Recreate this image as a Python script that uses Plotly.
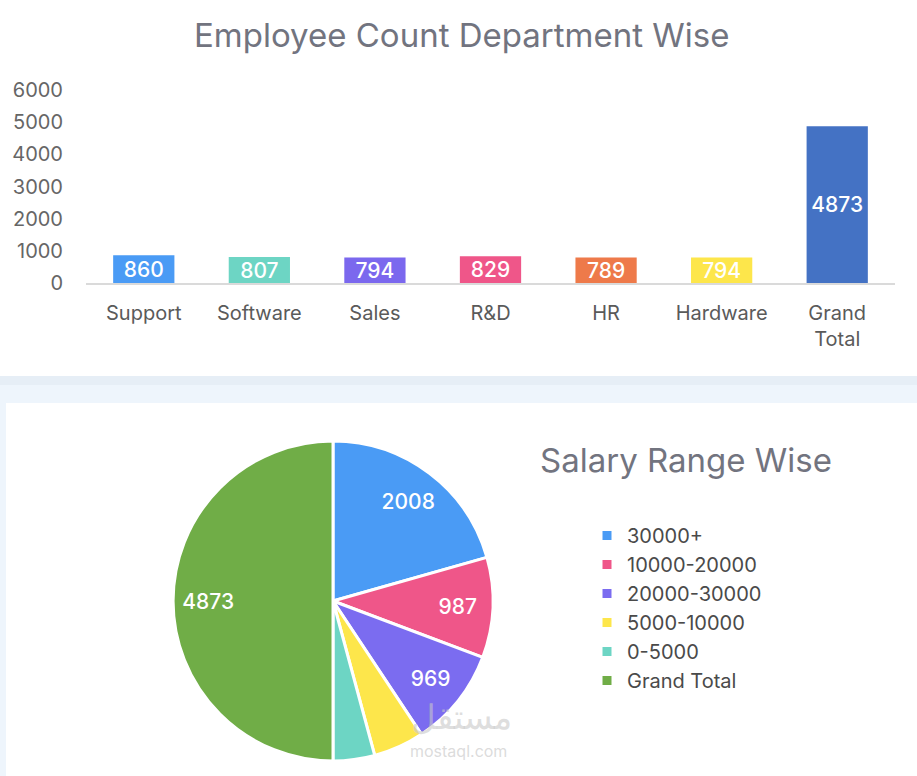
import plotly.graph_objects as go

# ---- data ----
departments = ["Support", "Software", "Sales", "R&D", "HR", "Hardware", "Grand Total"]
dept_tick_labels = ["Support", "Software", "Sales", "R&D", "HR", "Hardware", "Grand<br>Total"]
employee_counts = [860, 807, 794, 829, 789, 794, 4873]
bar_colors = ["#4A9BF5", "#6DD5C4", "#7B68EE", "#EF5689", "#EE7A4A", "#FDE64B", "#4472C4"]

salary_ranges = ["30000+", "10000-20000", "20000-30000", "5000-10000", "0-5000", "Grand Total"]
salary_counts = [2008, 987, 969, 500, 409, 4873]
pie_colors = ["#4A9BF5", "#EF5689", "#7B6CF0", "#FDE64B", "#6DD5C4", "#70AD47"]
pie_show_label = [True, True, True, False, False, True]

y_ticks = [0, 1000, 2000, 3000, 4000, 5000, 6000]

W, H = 917, 776
FONT = "Inter"
TITLE_COLOR = "#72747F"
TICK_COLOR = "#5A5A5A"


def px(x):
    return x / W


def py(y):
    return 1 - y / H


pie_domain = dict(x=[px(173), px(493)], y=[py(761), py(441)])

fig = go.Figure()

fig.add_trace(go.Bar(
    x=departments,
    y=employee_counts,
    marker=dict(color=bar_colors, line=dict(width=0)),
    text=[str(v) for v in employee_counts],
    textposition="inside",
    insidetextanchor="middle",
    constraintext="none",
    textfont=dict(family=FONT, size=21, color="white", weight=500),
    showlegend=False,
    hoverinfo="x+y",
))

# the pie itself
fig.add_trace(go.Pie(
    labels=salary_ranges,
    values=salary_counts,
    sort=False,
    direction="clockwise",
    rotation=0,
    marker=dict(colors=pie_colors, line=dict(color="white", width=3)),
    textinfo="none",
    domain=pie_domain,
    showlegend=True,
    hoverinfo="label+value",
))

# transparent ring on top that only carries the value labels (pushes them outwards)
fig.add_trace(go.Pie(
    labels=salary_ranges,
    values=salary_counts,
    sort=False,
    direction="clockwise",
    rotation=0,
    hole=0.56,
    marker=dict(colors=["rgba(0,0,0,0)"] * len(salary_counts), line=dict(width=0)),
    texttemplate=["%{value}" if s else "" for s in pie_show_label],
    textposition="inside",
    insidetextorientation="horizontal",
    textfont=dict(family=FONT, size=21, color="white", weight=500),
    domain=pie_domain,
    showlegend=False,
    hoverinfo="skip",
))

fig.update_layout(
    width=W, height=H,
    margin=dict(l=0, r=0, t=0, b=0, pad=0, autoexpand=False),
    paper_bgcolor="white",
    plot_bgcolor="rgba(0,0,0,0)",
    font=dict(family=FONT, color=TICK_COLOR),
    bargap=0.47,
    xaxis=dict(
        domain=[px(86), px(895)],
        anchor="y",
        automargin=False,
        tickmode="array",
        tickvals=departments,
        ticktext=dept_tick_labels,
        showline=True, linecolor="#DADADA", linewidth=2,
        showgrid=False, zeroline=False,
        ticks="", ticklabelstandoff=11,
        tickfont=dict(family=FONT, size=20, color=TICK_COLOR),
    ),
    yaxis=dict(
        domain=[py(283), py(90)],
        range=[0, 6000],
        automargin=False,
        tickmode="array",
        tickvals=y_ticks,
        showline=False, showgrid=False, zeroline=False,
        ticks="", ticklabelstandoff=22,
        tickfont=dict(family=FONT, size=20, color="#666666"),
    ),
    legend=dict(
        x=px(587), y=py(516), xanchor="left", yanchor="top",
        font=dict(family=FONT, size=20, color="#4A4A4A"),
        bgcolor="rgba(0,0,0,0)",
        itemclick=False,
    ),
    shapes=[
        dict(type="rect", xref="paper", yref="paper", layer="below",
             x0=0, x1=1, y0=py(403), y1=py(376), fillcolor="#EEF5FC", line=dict(width=0)),
        dict(type="rect", xref="paper", yref="paper", layer="below",
             x0=0, x1=1, y0=py(385), y1=py(376), fillcolor="#E6EEF6", line=dict(width=0)),
        dict(type="rect", xref="paper", yref="paper", layer="below",
             x0=0, x1=px(6), y0=0, y1=py(403), fillcolor="#EEF5FC", line=dict(width=0)),
    ],
    annotations=[
        dict(text="Employee Count Department Wise", xref="paper", yref="paper",
             x=px(462), y=py(35), xanchor="center", yanchor="middle", showarrow=False,
             font=dict(family=FONT, size=33, color=TITLE_COLOR)),
        dict(text="Salary Range Wise", xref="paper", yref="paper",
             x=px(686), y=py(460), xanchor="center", yanchor="middle", showarrow=False,
             font=dict(family=FONT, size=33, color=TITLE_COLOR)),
        dict(text="مستقل", xref="paper", yref="paper",
             x=px(462), y=py(716), xanchor="center", yanchor="middle", showarrow=False,
             font=dict(family="Noto Sans", size=34, color="rgba(200,200,200,0.6)")),
        dict(text="mostaql.com", xref="paper", yref="paper",
             x=px(458), y=py(751), xanchor="center", yanchor="middle", showarrow=False,
             font=dict(family=FONT, size=16, color="rgba(200,200,200,0.65)")),
    ],
)

fig.write_html("out.html")
